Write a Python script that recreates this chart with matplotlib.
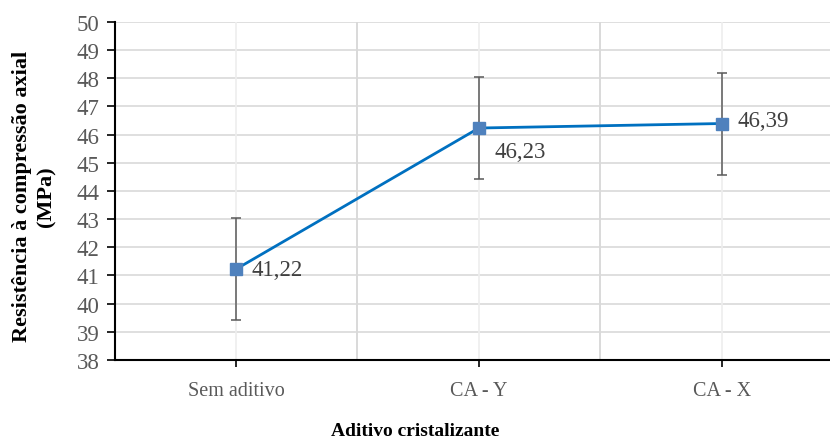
import numpy as np
import matplotlib.pyplot as plt

plt.rcParams['font.family'] = ['Liberation Serif', 'DejaVu Serif']

categorias = ['Sem aditivo', 'CA - Y', 'CA - X']
resistencia = [41.22, 46.23, 46.39]
erro = [1.80, 1.80, 1.81]
rotulos = ['41,22', '46,23', '46,39']

fig = plt.figure(figsize=(8.3, 4.39), dpi=100)
ax = fig.add_axes([0.138, 0.178, 0.878, 0.770])

x = np.arange(len(categorias))

# grade
for v in range(38, 51):
    ax.axhline(v, color='#d9d9d9', lw=1.2, zorder=0)
for xi in x:
    ax.axvline(xi, color='#eeeeee', lw=1.2, zorder=0)
for xb in x[:-1] + 0.5:
    ax.axvline(xb, color='#d9d9d9', lw=1.4, zorder=0)

ax.errorbar(x, resistencia, yerr=erro, fmt='none', ecolor='#595959',
            elinewidth=1.1, capsize=3.5, capthick=1.1, zorder=2)
ax.plot(x, resistencia, color='#0070c0', lw=2, zorder=3)
ax.plot(x, resistencia, ls='none', marker='s', ms=8, color='#4f81bd', zorder=4)

# rótulos de dados
desloc = [(11, 0), (11, -17), (11, 2)]
for xi, yi, txt, d in zip(x, resistencia, rotulos, desloc):
    ax.annotate(txt, (xi, yi), xytext=d, textcoords='offset points',
                ha='left', va='center', fontsize=16.5, color='#404040')

ax.set_xlim(-0.5, 2.5)
ax.set_ylim(38, 50)
ax.set_yticks(range(38, 51))
ax.set_xticks(x)
ax.set_xticklabels(categorias)
ax.tick_params(axis='y', labelsize=16.5, labelcolor='#595959', length=6, width=1.2, pad=5)
ax.tick_params(axis='x', labelsize=14.5, labelcolor='#595959', length=5, width=1.2, pad=10)

for s in ['top', 'right']:
    ax.spines[s].set_visible(False)
ax.spines['left'].set_linewidth(1.5)
ax.spines['bottom'].set_linewidth(1.5)

fig.text(0.5, 0.016, 'Aditivo cristalizante', ha='center', va='center',
         fontsize=14, fontweight='bold')
fig.text(0.041, 0.553, 'Resistência à compressão axial\n(MPa)', rotation=90,
         ha='center', va='center', fontsize=16, fontweight='bold',
         linespacing=1.3, multialignment='center')

fig.savefig('out.png', dpi=100)
